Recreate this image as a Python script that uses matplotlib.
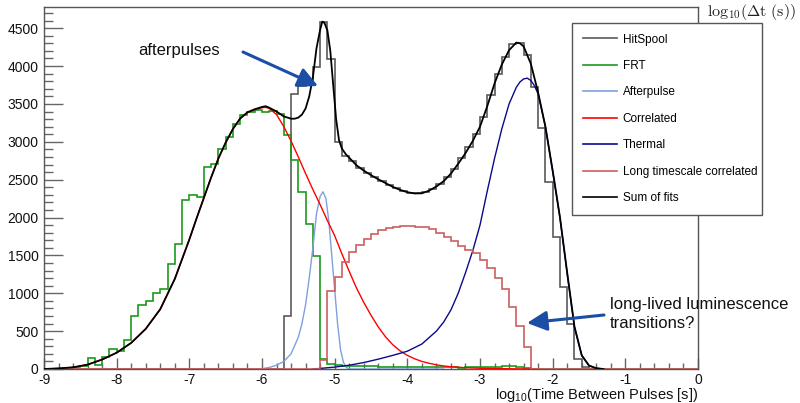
import numpy as np
import matplotlib
matplotlib.use("Agg")
import matplotlib.pyplot as plt
from matplotlib.ticker import MultipleLocator
from matplotlib.lines import Line2D

plt.rcParams['font.family'] = ['Liberation Sans', 'DejaVu Sans']
plt.rcParams['mathtext.default'] = 'regular'
plt.rcParams['axes.unicode_minus'] = False

# ---------------- data ----------------
bin_width = 0.1
x_min, x_max = -9.0, 0.0

# HitSpool histogram (bins of 0.1 starting at hitspool_start)
hitspool_start = -5.7
hitspool_counts = [700, 3630, 3740, 3750, 3990, 4580, 4090, 3000, 2815, 2740,
                   2655, 2590, 2530, 2480, 2430, 2385, 2350, 2325, 2318, 2335,
                   2380, 2445, 2530, 2645, 2780, 2930, 3105, 3330, 3620, 3900,
                   4120, 4290, 4310, 4150, 3730, 3180, 2470, 1740, 1080, 595,
                   130, 25]

# FRT histogram
frt_start = -8.7
frt_counts = [10, 20, 35, 140, 57, 163, 265, 233, 384, 696,
              847, 900, 1001, 1054, 1380, 1645, 2236, 2303, 2270, 2670,
              2710, 2910, 3065, 3240, 3350, 3390, 3420, 3390, 3410, 3370,
              3090, 2760, 2340, 1920, 1490, 130, 66, 48, 42, 40,
              38, 36, 35, 33, 30, 28, 28, 25, 24, 22,
              22, 20, 20, 22, 18, 20, 22, 25, 20, 25,
              40, 45, 30, 15]

# Long timescale correlated histogram
longcorr_start = -5.2
longcorr_counts = [123, 1036, 1220, 1411, 1543, 1632, 1720, 1786, 1830, 1860,
                   1875, 1885, 1885, 1880, 1870, 1850, 1790, 1742, 1689, 1618,
                   1575, 1530, 1442, 1336, 1204, 1059, 815, 573, 286]

# Afterpulse fit curve
afterpulse_x = [-6.15, -6.0, -5.9, -5.8, -5.7, -5.6, -5.5, -5.45, -5.4, -5.35,
                -5.3, -5.25, -5.2, -5.16, -5.12, -5.08, -5.04, -5.0, -4.96, -4.92,
                -4.88, -4.84, -4.8, -3.5]
afterpulse_y = [0, 5, 20, 50, 100, 200, 420, 600, 850, 1200,
                1600, 2050, 2280, 2340, 2250, 1950, 1500, 1050, 600, 260,
                90, 20, 0, 0]

# Correlated fit curve
correlated_x = [-9.0, -8.8, -8.6, -8.4, -8.2, -8.0, -7.8, -7.6, -7.4, -7.2,
                -7.0, -6.9, -6.8, -6.7, -6.6, -6.5, -6.4, -6.3, -6.2, -6.1,
                -6.0, -5.95, -5.9, -5.8, -5.7, -5.6, -5.5, -5.4, -5.3, -5.2,
                -5.1, -5.0, -4.9, -4.8, -4.7, -4.6, -4.5, -4.4, -4.3, -4.2,
                -4.1, -4.0, -3.9, -3.8, -3.7, -3.6, -3.5, -3.4, -3.2, -3.0,
                -2.8, -2.6, -2.4, -2.2]
correlated_y = [0, 8, 22, 58, 125, 215, 345, 530, 790, 1190,
                1710, 1990, 2260, 2530, 2780, 2990, 3170, 3305, 3385, 3425,
                3450, 3455, 3440, 3360, 3200, 3010, 2800, 2580, 2370, 2170,
                1960, 1760, 1520, 1290, 1070, 880, 710, 555, 425, 320,
                240, 180, 135, 100, 75, 55, 40, 30, 17, 10,
                6, 3, 1, 0]

# Thermal fit curve
thermal_x = [-5.3, -5.2, -5.0, -4.8, -4.6, -4.4, -4.2, -4.0, -3.8, -3.6,
             -3.5, -3.4, -3.3, -3.2, -3.1, -3.0, -2.9, -2.8, -2.7, -2.6,
             -2.5, -2.45, -2.4, -2.35, -2.3, -2.25, -2.2, -2.1, -2.0, -1.9,
             -1.8, -1.7, -1.6, -1.5, -1.4, -1.3]
thermal_y = [0, 8, 25, 50, 85, 130, 180, 235, 330, 500,
             620, 780, 1000, 1270, 1560, 1900, 2350, 2780, 3170, 3500,
             3720, 3790, 3830, 3840, 3810, 3740, 3630, 3200, 2610, 2000,
             1260, 550, 180, 45, 10, 0]

# Sum of fits curve
sum_x = [-9.0, -8.8, -8.6, -8.4, -8.2, -8.0, -7.8, -7.6, -7.4, -7.2,
         -7.0, -6.9, -6.8, -6.7, -6.6, -6.5, -6.4, -6.3, -6.2, -6.1,
         -6.0, -5.95, -5.9, -5.8, -5.7, -5.6, -5.55, -5.5, -5.45, -5.4,
         -5.35, -5.3, -5.25, -5.2, -5.17, -5.14, -5.1, -5.06, -5.02, -4.98,
         -4.94, -4.9, -4.85, -4.8, -4.7, -4.6, -4.5, -4.4, -4.3, -4.2,
         -4.1, -4.0, -3.9, -3.8, -3.7, -3.6, -3.5, -3.4, -3.3, -3.2,
         -3.1, -3.0, -2.9, -2.8, -2.7, -2.6, -2.5, -2.45, -2.4, -2.3,
         -2.2, -2.1, -2.0, -1.9, -1.8, -1.7, -1.6, -1.5, -1.4, -1.3]
sum_y = [0, 8, 22, 58, 125, 215, 345, 530, 790, 1190,
         1710, 1990, 2260, 2530, 2780, 2990, 3170, 3310, 3390, 3430,
         3460, 3470, 3450, 3400, 3335, 3305, 3305, 3320, 3360, 3440,
         3600, 3850, 4235, 4480, 4587, 4570, 4470, 4200, 3750, 3300,
         3020, 2910, 2840, 2790, 2690, 2620, 2560, 2505, 2455, 2405,
         2365, 2335, 2318, 2320, 2355, 2410, 2480, 2580, 2710, 2850,
         3010, 3200, 3470, 3770, 4020, 4210, 4310, 4300, 4260, 4030,
         3650, 3200, 2620, 2006, 1270, 560, 180, 45, 10, 0]

legend_labels = ["HitSpool", "FRT", "Afterpulse", "Correlated", "Thermal",
                 "Long timescale correlated", "Sum of fits"]
colors = {"HitSpool": "#5a5a5a", "FRT": "#1d9a1d", "Afterpulse": "#7f9fdf",
          "Correlated": "#ff0000", "Thermal": "#0a0a8c",
          "Long timescale correlated": "#cc5f5f", "Sum of fits": "#000000"}

# ---------------- helpers ----------------
n_bins = int(round((x_max - x_min) / bin_width))
edges = x_min + bin_width * np.arange(n_bins + 1)


def full_hist(start, counts):
    vals = np.zeros(n_bins)
    i0 = int(round((start - x_min) / bin_width))
    vals[i0:i0 + len(counts)] = counts
    return vals


# ---------------- figure ----------------
fig = plt.figure(figsize=(8.0, 4.03), dpi=100)
ax = fig.add_axes([44 / 800, 34 / 403, 654 / 800, 362 / 403])

lw_h = 1.2
ax.stairs(full_hist(hitspool_start, hitspool_counts), edges,
          color=colors["HitSpool"], lw=lw_h, zorder=2)
ax.stairs(full_hist(frt_start, frt_counts), edges,
          color=colors["FRT"], lw=lw_h, zorder=3)
ax.plot(afterpulse_x, afterpulse_y, color=colors["Afterpulse"], lw=1.0, zorder=4)
ax.plot(correlated_x, correlated_y, color=colors["Correlated"], lw=1.0, zorder=5)
ax.plot(thermal_x, thermal_y, color=colors["Thermal"], lw=1.0, zorder=5)
ax.stairs(full_hist(longcorr_start, longcorr_counts), edges,
          color=colors["Long timescale correlated"], lw=lw_h, zorder=6)
ax.plot(sum_x, sum_y, color=colors["Sum of fits"], lw=1.3, zorder=7)

ax.set_xlim(x_min, x_max)
ax.set_ylim(0, 4780)
ax.xaxis.set_major_locator(MultipleLocator(1))
ax.xaxis.set_minor_locator(MultipleLocator(0.2))
ax.yaxis.set_major_locator(MultipleLocator(500))
ax.yaxis.set_minor_locator(MultipleLocator(100))

ax.tick_params(axis='both', which='both', direction='in', color='#666666',
               labelsize=10, labelcolor='#111111', top=False, right=False)
ax.tick_params(axis='y', which='major', length=13.5, width=1.0, pad=4)
ax.tick_params(axis='y', which='minor', length=6.5, width=1.0)
ax.tick_params(axis='x', which='major', length=8, width=1.0, pad=3)
ax.tick_params(axis='x', which='minor', length=4, width=1.0)
for s in ax.spines.values():
    s.set_color('#555555')
    s.set_linewidth(1.0)

ax.text(1.0, -0.048, 'log$_{10}$(Time Between Pulses [s])', transform=ax.transAxes,
        ha='right', va='top', fontsize=10.5, color='#111111')

fig.text(707 / 800, 1 - 12 / 403, r'$\mathrm{log_{10}(\Delta t\ (s))}$',
         ha='left', va='center', fontsize=11.5, math_fontfamily='cm', color='#222222')

# legend
handles = [Line2D([0], [0], color=colors[k], lw=1.2) for k in legend_labels]
leg = ax.legend(handles, legend_labels, loc='upper left',
                bbox_to_anchor=((572 - 44) / 654, (369 - 23) / 362 - 0.001, 190 / 654, 0.001),
                mode='expand', fontsize=8.5, frameon=True, fancybox=False,
                edgecolor='#555555', framealpha=1.0, borderpad=0.9,
                labelspacing=1.22, handlelength=2.9, handletextpad=0.5,
                borderaxespad=0)
leg.get_frame().set_linewidth(1.0)
leg.set_zorder(10)

# annotations
arrow_color = '#1c4ea6'


def to_data(px, py):
    return (px - 44) / 654 * 9 - 9, (369 - py) / 362 * 4780


ax.annotate('', xy=to_data(318, 86), xytext=to_data(243, 52),
            arrowprops=dict(arrowstyle='-|>,head_length=1.0,head_width=0.5',
                            lw=2.2, color=arrow_color, shrinkA=0, shrinkB=0,
                            mutation_scale=12), zorder=11)
ax.text(*to_data(138, 50), 'afterpulses', fontsize=12, ha='left', va='center',
        color='#111111', zorder=11)

ax.annotate('', xy=to_data(527, 323), xytext=to_data(604, 315),
            arrowprops=dict(arrowstyle='-|>,head_length=1.0,head_width=0.5',
                            lw=2.2, color=arrow_color, shrinkA=0, shrinkB=0,
                            mutation_scale=12), zorder=11, annotation_clip=False)
ax.text(*to_data(610, 314), 'long-lived luminescence\ntransitions?', fontsize=12,
        ha='left', va='center', color='#111111', linespacing=1.3, zorder=11,
        clip_on=False)

fig.savefig('out.png', dpi=100)
